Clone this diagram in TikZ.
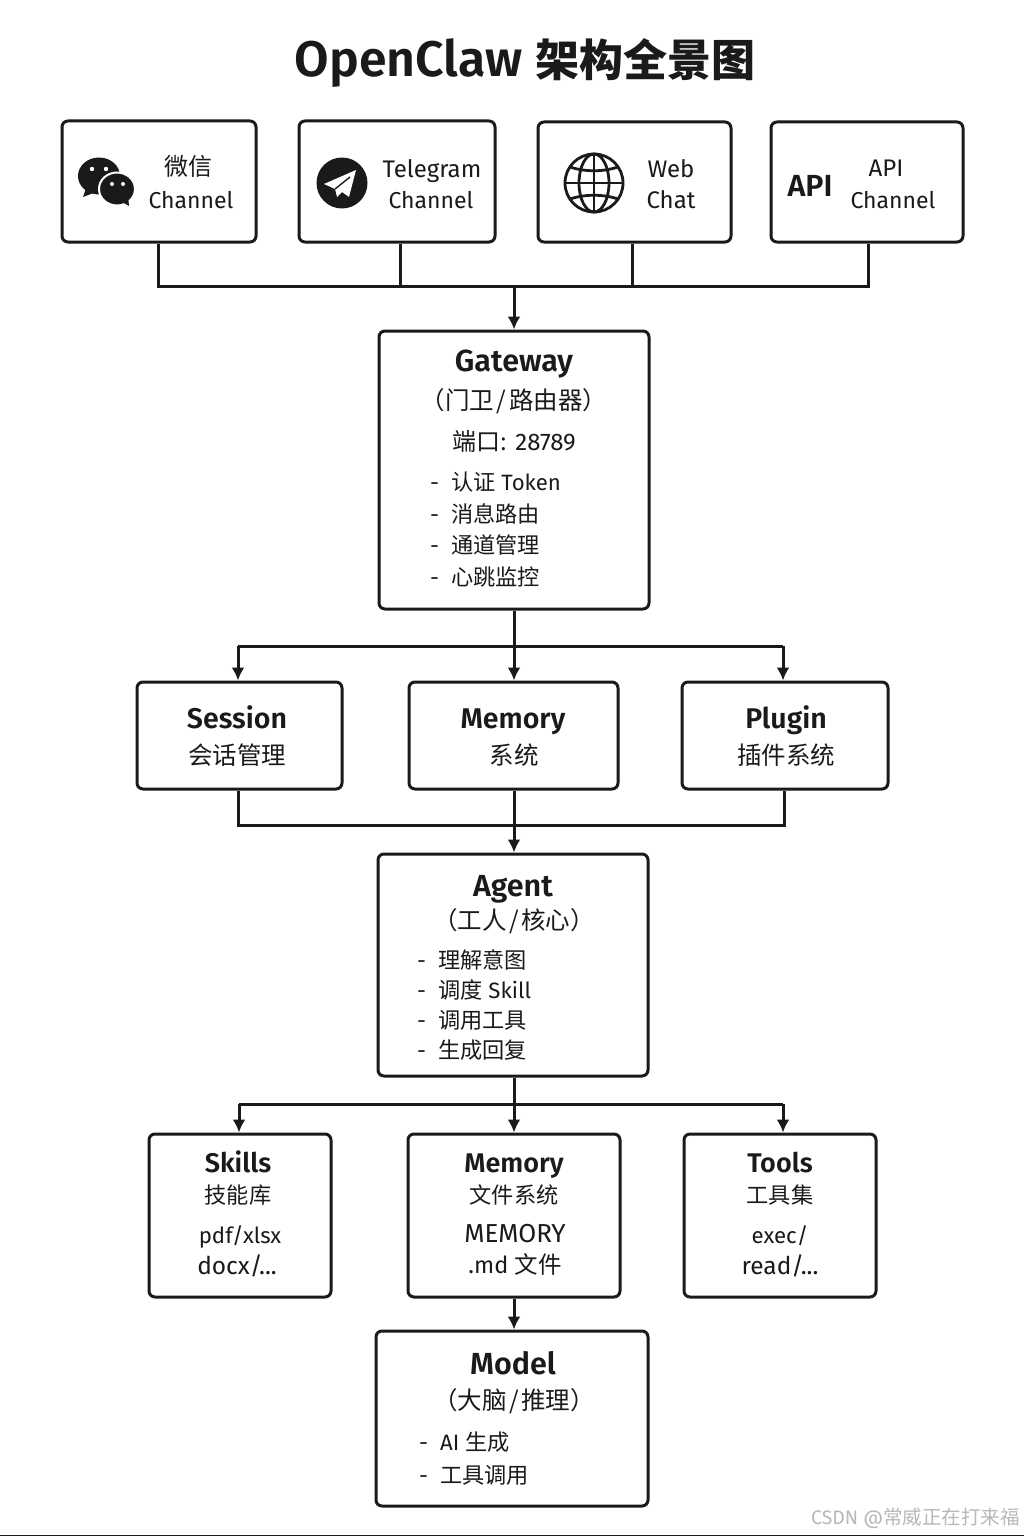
\documentclass[tikz,border=0pt]{standalone}
\usepackage{fontspec}
\setmainfont{Fira Sans}[BoldFont={Fira Sans SemiBold}]
\newfontfamily\cjk{Noto Sans CJK SC}
\newcommand\zh[1]{{\cjk #1}}
\newcommand\zhb[1]{{\cjk\bfseries #1}}
\newcommand\slsh{\hspace{2.5pt}/\hspace{2.5pt}}
\definecolor{ink}{HTML}{1A1A1A}
\usetikzlibrary{arrows.meta}
\tikzset{
  x=1pt,y=-1pt,
  line/.style={draw=ink,line width=3pt},
  flow/.style={line,-{Latex[length=13pt,width=13pt]}},
  boxed/.style={draw=ink,line width=3pt,fill=white,rounded corners=6pt,inner sep=0pt},
  lab/.style={inner sep=0pt,text=ink,text height=20pt,text depth=3pt,font=\fontsize{24}{28}\selectfont},
  chan/.style={lab,font=\fontsize{23}{28}\selectfont},
  lt/.style={inner sep=0pt,text=ink,text height=19pt,text depth=3pt,anchor=west,font=\fontsize{22.2}{26}\selectfont},
  head/.style={inner sep=0pt,text=ink,text height=24pt,text depth=4pt,font=\fontsize{28.5}{32}\selectfont\bfseries},
  headl/.style={head,font=\fontsize{30.5}{34}\selectfont\bfseries},
  headb/.style={head,text height=22pt,text depth=3.5pt,font=\fontsize{27}{30}\selectfont\bfseries},
  sub/.style={inner sep=0pt,text=ink,text height=20pt,text depth=3pt,font=\fontsize{24.5}{28}\selectfont},
  sm/.style={inner sep=0pt,text=ink,text height=19pt,text depth=3pt,font=\fontsize{22.2}{27}\selectfont},
  smw/.style={sm,font=\fontsize{24.5}{27}\selectfont},
}
\newcommand\bx[5]{\node[boxed,minimum width=#4-#2,minimum height=#5-#3] (#1) at ({(#2+#4)/2},{(#3+#5)/2}) {};}
\begin{document}
\begin{tikzpicture}
\useasboundingbox (0,0) rectangle (1024,1536);
\fill[white] (0,0) rectangle (1024,1536);
\draw[ink,line width=1.6pt] (0,1536) -- (1024,1536);
\draw[black!30,line width=1pt] (0,0) -- (1024,0);
% title
\node[inner sep=0pt,text=ink,font=\fontsize{50}{52}\selectfont\bfseries] (title) at (525,63) {OpenClaw\hspace{13pt}{\fontsize{44}{50}\selectfont\zhb{架构全景图}}};
% boxes
\bx{wechat}{62}{121}{256}{242}
\bx{telegram}{299}{121}{495}{242}
\bx{web}{538}{122}{731}{242}
\bx{api}{771}{122}{963}{242}
\bx{gateway}{379}{331}{649}{609}
\bx{session}{137}{682}{342}{789}
\bx{memory}{409}{682}{618}{789}
\bx{plugin}{682}{682}{888}{789}
\bx{agent}{378}{854}{648}{1076}
\bx{skills}{149}{1134}{331}{1297}
\bx{memfile}{408}{1134}{620}{1297}
\bx{tools}{684}{1134}{876}{1297}
\bx{model}{376}{1331}{648}{1506}
% junctions
\coordinate (b1a) at (158,286);
\coordinate (b1b) at (400,286);
\coordinate (b1c) at (632,286);
\coordinate (b1d) at (868,286);
\coordinate (b1m) at (514,286);
\coordinate (b2m) at (514,646);
\coordinate (b2l) at (238,646);
\coordinate (b2r) at (783,646);
\coordinate (b3l) at (238,825);
\coordinate (b3r) at (784,825);
\coordinate (b3m) at (514,825);
\coordinate (b4m) at (514,1104);
\coordinate (b4l) at (239,1104);
\coordinate (b4r) at (783,1104);
% connectors
\draw[line] (wechat.south -| b1a) -- (b1a) -- (b1d) -- (api.south -| b1d);
\draw[line] (telegram.south -| b1b) -- (b1b);
\draw[line] (web.south -| b1c) -- (b1c);
\draw[flow] (b1m) -- (gateway.north -| b1m);
\draw[flow] (gateway.south -| b2m) -- (memory.north -| b2m);
\draw[line] (b2l) -- (b2r);
\draw[flow] (b2l) -- (session.north -| b2l);
\draw[flow] (b2r) -- (plugin.north -| b2r);
\draw[line] (session.south -| b3l) -- (b3l) -- (b3r) -- (plugin.south -| b3r);
\draw[flow] (memory.south -| b3m) -- (agent.north -| b3m);
\draw[flow] (agent.south -| b4m) -- (memfile.north -| b4m);
\draw[line] (b4l) -- (b4r);
\draw[flow] (b4l) -- (skills.north -| b4l);
\draw[flow] (b4r) -- (tools.north -| b4r);
\draw[flow] (memfile.south -| b4m) -- (model.north -| b4m);
% wechat icon
\fill[ink] (99,176) ellipse [x radius=21,y radius=18.5];
\fill[ink] (86,188) -- (83,197) -- (96,192) -- cycle;
\fill[ink,draw=white,line width=2pt] (117,189) ellipse [x radius=18,y radius=16.5];
\fill[ink] (122,202) -- (129,206) -- (128,196) -- cycle;
\fill[white] (92,169) circle (2.2) (106,169) circle (2.2) (112,184) circle (2) (123,184) circle (2);
% telegram icon
\fill[ink] (342,183) circle (25.5);
\fill[white] (356,170) -- (324,184) -- (335,189) -- (337,197) -- (342,192) -- (349,197) -- cycle;
\draw[ink,line width=1.4pt] (335,189) -- (350,177);
% globe icon
\begin{scope}[ink,line width=2.8pt]
\draw (594,183) circle (29);
\draw (594,183) ellipse [x radius=15,y radius=29];
\draw (594,154) -- (594,212);
\draw (565,183) -- (623,183);
\draw (570,167) .. controls (585,172) and (603,172) .. (618,167);
\draw (570,199) .. controls (585,194) and (603,194) .. (618,199);
\end{scope}
% channel text
\node[lab] (t1a) at (188,167) {\zh{微信}};
\node[chan] (t1b) at (191,200) {Channel};
\node[lab] (t2a) at (432,169) {Telegram};
\node[chan] (t2b) at (431,200) {Channel};
\node[lab] (t3a) at (671,169) {Web};
\node[lab] (t3b) at (671,200) {Chat};
\node[headl] (t4i) at (810,186) {API};
\node[lab] (t4a) at (886,168) {API};
\node[chan] (t4b) at (893,200) {Channel};
% gateway
\node[headl] (g1) at (514,361) {Gateway};
\node[sub] (g2) at (514,401) {\zh{（门卫\slsh 路由器）}};
\node[lab] (g3) at (514,442) {\zh{端口:} 28789};
\node[lt] (g4) at (430,482) {-};
\node[lt] (g4t) at (451,482) {\zh{认证} Token};
\node[lt] (g5) at (430,514) {-};
\node[lt] (g5t) at (451,514) {\zh{消息路由}};
\node[lt] (g6) at (430,545) {-};
\node[lt] (g6t) at (451,545) {\zh{通道管理}};
\node[lt] (g7) at (430,577) {-};
\node[lt] (g7t) at (451,577) {\zh{心跳监控}};
% middle row
\node[head] (s1) at (237,718) {Session};
\node[sub] (s2) at (237,756) {\zh{会话管理}};
\node[head] (m1) at (513,718) {Memory};
\node[sub] (m2) at (514,756) {\zh{系统}};
\node[head] (p1) at (786,718) {Plugin};
\node[sub] (p2) at (786,756) {\zh{插件系统}};
% agent
\node[headl] (a1) at (513,886) {Agent};
\node[sub] (a2) at (514,921) {\zh{（工人\slsh 核心）}};
\node[lt] (a3) at (417,960) {-};
\node[lt] (a3t) at (438,960) {\zh{理解意图}};
\node[lt] (a4) at (417,990) {-};
\node[lt] (a4t) at (438,990) {\zh{调度} Skill};
\node[lt] (a5) at (417,1020) {-};
\node[lt] (a5t) at (438,1020) {\zh{调用工具}};
\node[lt] (a6) at (417,1050) {-};
\node[lt] (a6t) at (438,1050) {\zh{生成回复}};
% lower row
\node[headb] (k1) at (238,1163) {Skills};
\node[sm] (k2) at (238,1195) {\zh{技能库}};
\node[sm] (k3) at (240,1235) {pdf/xlsx};
\node[smw] (k4) at (237,1266) {docx/...};
\node[headb] (f1) at (514,1163) {Memory};
\node[sm] (f2) at (514,1195) {\zh{文件系统}};
\node[sm,font=\fontsize{26}{27}\selectfont] (f3) at (515,1234) {MEMORY};
\node[sm,font=\fontsize{23.5}{27}\selectfont] (f4) at (515,1265) {.md \zh{文件}};
\node[headb] (o1) at (780,1163) {Tools};
\node[sm] (o2) at (780,1195) {\zh{工具集}};
\node[sm] (o3) at (780,1235) {exec/};
\node[smw] (o4) at (780,1266) {read/...};
% model
\node[headl] (d1) at (513,1364) {Model};
\node[sub] (d2) at (514,1401) {\zh{（大脑\slsh 推理）}};
\node[lt] (d3) at (419,1442) {-};
\node[lt] (d3t) at (440,1442) {AI \zh{生成}};
\node[lt] (d4) at (419,1475) {-};
\node[lt] (d4t) at (440,1475) {\zh{工具调用}};
% watermark
\node[inner sep=0pt,anchor=east,text=black!28,font=\fontsize{19.5}{22}\selectfont] (wm) at (1020,1518) {CSDN @\zh{常威正在打来福}};
\end{tikzpicture}
\end{document}
